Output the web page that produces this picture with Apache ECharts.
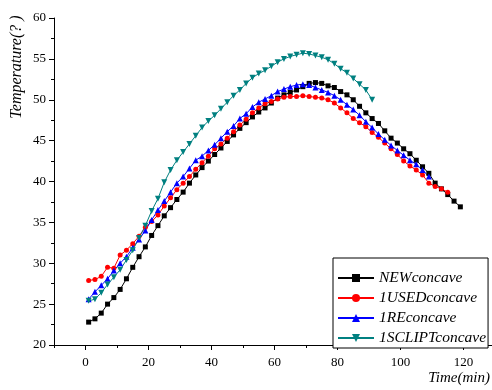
<!DOCTYPE html>
<html><head><meta charset="utf-8">
<script src="https://cdn.jsdelivr.net/npm/echarts@6/dist/echarts.min.js"></script>
<style>html,body{margin:0;padding:0;background:#fff}#c{width:492px;height:390px}</style>
</head><body><div id="c"></div>
<script>
// time (min) of each reading
const times = [1,3,5,7,9,11,13,15,17,19,21,23,25,27,29,31,33,35,37,39,41,43,45,47,49,51,53,55,57,59,
  61,63,65,67,69,71,73,75,77,79,81,83,85,87,89,91,93,95,97,99,101,103,105,107,109,111,113,115,117,119];

const newConcave = [22.8,23.2,23.9,25.0,25.8,26.8,28.1,29.5,30.8,32.0,
  33.4,34.6,35.8,36.8,37.8,38.7,39.8,40.8,41.7,42.5,
  43.3,44.1,44.9,45.7,46.5,47.2,47.9,48.5,49.0,49.6,
  50.2,50.6,50.9,51.2,51.6,52.0,52.1,52.0,51.7,51.5,
  51.0,50.6,50.0,49.2,48.4,47.7,47.1,46.2,45.3,44.7,
  44.0,43.4,42.6,41.8,41.0,39.8,39.1,38.4,37.6,36.9];

const usedConcave = [27.9,28.0,28.4,29.5,29.4,31.0,31.6,32.4,33.3,34.4,
  35.1,35.9,37.0,38.0,39.0,39.8,40.6,41.5,42.3,43.1,
  44.0,44.6,45.3,46.1,46.9,47.6,48.4,49.0,49.5,49.8,
  50.1,50.3,50.4,50.4,50.5,50.4,50.3,50.2,50.0,49.6,
  49.0,48.4,47.7,47.2,46.7,46.0,45.4,44.7,44.0,43.3,
  42.5,41.9,41.4,40.8,39.8,39.4,39.1,38.7];

const reConcave = [25.6,26.5,27.3,28.1,29.1,30.0,30.8,31.9,32.9,34.0,
  35.3,36.5,37.6,38.7,39.8,40.6,41.6,42.6,43.1,43.8,
  44.5,45.3,46.1,46.8,47.7,48.3,49.1,49.7,50.1,50.5,
  51.0,51.3,51.6,51.8,51.9,51.8,51.5,51.2,50.9,50.5,
  50.0,49.4,48.8,48.1,47.3,46.6,45.8,45.1,44.4,43.8,
  43.2,42.6,42.1,41.4,40.6];

const scliptConcave = [25.4,25.6,26.4,27.4,28.3,29.2,30.4,31.6,33.1,34.6,
  36.4,37.9,39.9,41.4,42.6,43.6,44.6,45.6,46.6,47.4,
  48.1,48.9,49.7,50.5,51.2,52.0,52.7,53.2,53.6,54.1,
  54.6,55.0,55.3,55.5,55.7,55.6,55.4,55.2,54.9,54.4,
  53.8,53.3,52.6,51.9,51.2,50.0];

const seriesNames = ['NEWconcave','1USEDconcave','1REconcave','1SCLIPTconcave'];
const xMajorTicks = [0,20,40,60,80,100,120];
const xMinorTicks = [-10,10,30,50,70,90,110,130];
const yAxisTitle = 'Temperature(? )';
const xAxisTitle = 'Time(min)';

const FONT = 'Liberation Serif';
const pair = vals => vals.map((v, i) => [times[i], v]);

function mkSeries(name, vals, color, symbol, size) {
  return {
    name, type: 'line', data: pair(vals), xAxisIndex: 0, yAxisIndex: 0,
    symbol, symbolSize: size, showSymbol: true,
    lineStyle: { color, width: 1 },
    itemStyle: { color, borderWidth: 0 },
    emphasis: { disabled: true }
  };
}

const chart = echarts.init(document.getElementById('c'), null, { renderer: 'canvas' });
chart.setOption({
  animation: false,
  backgroundColor: '#fff',
  textStyle: { fontFamily: FONT },
  grid: { left: 54, top: 18, width: 441, height: 327, outerBoundsMode: 'none', containLabel: false },
  xAxis: [{
    type: 'value', min: -10, max: 130, position: 'bottom',
    axisLine: { onZero: false, lineStyle: { color: '#000', width: 1 } },
    axisTick: { customValues: xMajorTicks, length: 5, lineStyle: { color: '#000' } },
    axisLabel: { customValues: xMajorTicks, color: '#000', fontSize: 13, margin: 11, fontFamily: FONT },
    splitLine: { show: false }
  }, {
    type: 'value', min: -10, max: 130, position: 'bottom', gridIndex: 0,
    axisLine: { show: false },
    axisTick: { customValues: xMinorTicks, length: 3, lineStyle: { color: '#000' } },
    axisLabel: { show: false },
    splitLine: { show: false }
  }],
  yAxis: {
    type: 'value', min: 20, max: 60, interval: 5,
    axisLine: { show: true, onZero: false, lineStyle: { color: '#000', width: 1 } },
    axisTick: { show: true, length: 5, lineStyle: { color: '#000' } },
    minorTick: { show: true, splitNumber: 2, length: 3, lineStyle: { color: '#000' } },
    axisLabel: { color: '#000', fontSize: 13, margin: 8, fontFamily: FONT },
    splitLine: { show: false }
  },
  legend: {
    left: 333, top: 258, orient: 'vertical',
    data: seriesNames,
    borderColor: '#000', borderWidth: 1, borderRadius: 0,
    padding: [12, 2, 2, 4],
    itemWidth: 36, itemHeight: 10, itemGap: 4,
    textStyle: { fontFamily: FONT, fontStyle: 'italic', fontSize: 15.5, color: '#000', lineHeight: 15 },
    backgroundColor: '#fff'
  },
  graphic: [
    { type: 'text', x: 17, y: 67, rotation: Math.PI / 2,
      style: { text: yAxisTitle, font: 'italic 16px "Liberation Serif"', fill: '#000', align: 'center', verticalAlign: 'middle' } },
    { type: 'text', x: 490, y: 378,
      style: { text: xAxisTitle, font: 'italic 15px "Liberation Serif"', fill: '#000', align: 'right', verticalAlign: 'middle' } }
  ],
  series: [
    mkSeries(seriesNames[0], newConcave, '#000000', 'rect', 5),
    mkSeries(seriesNames[1], usedConcave, '#ff0000', 'circle', 5),
    mkSeries(seriesNames[2], reConcave, '#0000ff', 'triangle', 6),
    mkSeries(seriesNames[3], scliptConcave, '#008080', 'path://M0,0L2,0L1,1.7Z', 6)
  ]
});
</script>
</body></html>
